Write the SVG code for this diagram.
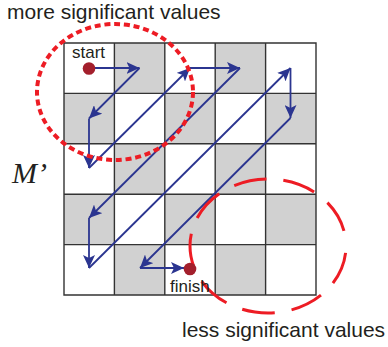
<svg xmlns="http://www.w3.org/2000/svg" width="388" height="347" viewBox="0 0 388 347">
<style>
.lbl{font-family:"Liberation Sans",Arial,sans-serif;fill:#231f20}
.big{font-size:21px}
.small{font-size:17px}
.cell{fill:#d1d1d1}
.grid{stroke:#333;stroke-width:1.4;fill:none}
.arr{stroke:#2b3590;stroke-width:1.8;fill:none;marker-end:url(#ah)}
.dot{fill:#a31f2c}
</style>
<defs>
<marker id="ah" markerUnits="userSpaceOnUse" markerWidth="14" markerHeight="12" refX="13" refY="6" orient="auto" viewBox="0 0 14 12">
<path d="M0,0 L13,6 L0,12 L3,6 z" fill="#2b3590"/>
</marker>
</defs>
<rect width="388" height="347" fill="#fff"/>
<text class="lbl big" x="7" y="19">more significant values</text>
<text class="lbl big" x="182" y="337">less significant values</text>
<text x="12" y="183" font-family="'Liberation Serif','Times New Roman',serif" font-style="italic" font-size="30" fill="#231f20">M’</text>
<g id="grid">
<rect class="cell" x="114.4" y="43" width="50.4" height="50.4"/>
<rect class="cell" x="215.2" y="43" width="50.4" height="50.4"/>
<rect class="cell" x="64" y="93.4" width="50.4" height="50.4"/>
<rect class="cell" x="164.8" y="93.4" width="50.4" height="50.4"/>
<rect class="cell" x="265.6" y="93.4" width="50.4" height="50.4"/>
<rect class="cell" x="114.4" y="143.8" width="50.4" height="50.4"/>
<rect class="cell" x="215.2" y="143.8" width="50.4" height="50.4"/>
<rect class="cell" x="64" y="194.2" width="50.4" height="50.4"/>
<rect class="cell" x="164.8" y="194.2" width="50.4" height="50.4"/>
<rect class="cell" x="265.6" y="194.2" width="50.4" height="50.4"/>
<rect class="cell" x="114.4" y="244.6" width="50.4" height="50.4"/>
<rect class="cell" x="215.2" y="244.6" width="50.4" height="50.4"/>
<path class="grid" d="M64,43H316V295H64Z M114.4,43V295 M164.8,43V295 M215.2,43V295 M265.6,43V295 M64,93.4H316 M64,143.8H316 M64,194.2H316 M64,244.6H316"/>
</g>
<g id="connectors">
<line class="arr" x1="95" y1="68" x2="139.5" y2="68"/>
<line class="arr" x1="139.5" y1="68" x2="89" y2="118.5"/>
<line class="arr" x1="89" y1="118.5" x2="89" y2="168"/>
<line class="arr" x1="89" y1="168" x2="190" y2="68"/>
<line class="arr" x1="190" y1="68" x2="240" y2="68"/>
<line class="arr" x1="240" y1="68" x2="89" y2="218"/>
<line class="arr" x1="89" y1="218" x2="89" y2="268"/>
<line class="arr" x1="89" y1="268" x2="290.5" y2="68"/>
<line class="arr" x1="290.5" y1="68" x2="290.5" y2="118"/>
<line class="arr" x1="290.5" y1="118" x2="140" y2="268"/>
<line class="arr" x1="140" y1="268" x2="184" y2="268"/>
</g>
<g id="more-region">
<ellipse cx="115" cy="92" rx="78" ry="68" fill="none" stroke="#ed1c24" stroke-width="4" stroke-dasharray="6 3.8"/>
</g>
<g id="less-region">
<ellipse cx="268" cy="246" rx="78" ry="67" fill="none" stroke="#ed1c24" stroke-width="3" stroke-dasharray="33 17" stroke-dashoffset="43"/>
</g>
<g id="start">
<circle class="dot" cx="89" cy="68.5" r="6.3"/>
<text class="lbl small" x="72" y="57.5">start</text>
</g>
<g id="finish">
<circle class="dot" cx="190" cy="269" r="6.3"/>
<text class="lbl small" x="170" y="291.5">finish</text>
</g>
</svg>
